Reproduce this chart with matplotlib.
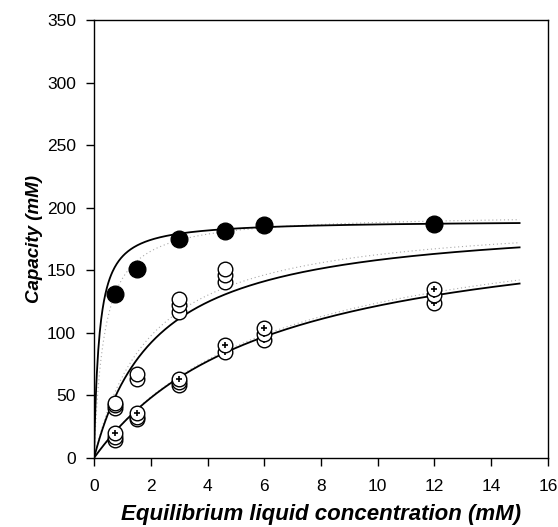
import numpy as np
import matplotlib
matplotlib.use('Agg')
import matplotlib.pyplot as plt

plt.rcParams['font.family'] = ['Liberation Sans', 'DejaVu Sans']

# measured points (equilibrium conc. in mM, capacity in mM)
filled_x = [0.75, 1.5, 3.0, 4.6, 6.0, 12.0]
filled_y = [131, 151, 175, 181, 186, 187]

open_x = [0.75, 0.75, 0.75, 1.5, 1.5, 3.0, 3.0, 3.0, 4.6, 4.6, 4.6]
open_y = [40, 42, 44, 63, 67, 117, 122, 127, 141, 146, 151]

plus_x = [0.75, 0.75, 0.75, 1.5, 1.5, 1.5, 3.0, 3.0, 3.0, 4.6, 4.6, 6.0, 6.0, 6.0, 12.0, 12.0, 12.0]
plus_y = [14, 17, 20, 31, 33, 36, 58, 61, 63, 85, 90, 94, 99, 104, 124, 130, 135]

# Langmuir fits (qmax, K)
solid_fits = [(190, 0.18), (193, 2.2), (197, 6.2)]
dotted_fits = [(195, 0.36), (195, 2.0), (202, 6.3)]

xticks = [0, 2, 4, 6, 8, 10, 12, 14, 16]
yticks = [0, 50, 100, 150, 200, 250, 300, 350]

fig = plt.figure(figsize=(5.58, 5.27), dpi=100)
ax = fig.add_axes([0.1685, 0.131, 0.8135, 0.831])

c = np.linspace(0, 15, 600)
for qm, k in dotted_fits:
    ax.plot(c, qm * c / (k + c), linestyle=(0, (1, 2.5)), color='#aaaaaa', linewidth=0.8, zorder=1)
for qm, k in solid_fits:
    ax.plot(c, qm * c / (k + c), color='black', linewidth=1.3, zorder=2)

ax.plot(filled_x, filled_y, 'o', color='black', markersize=12, zorder=5)

# open circles, drawn low to high so stacks overlap like the original
order = np.argsort(open_y)
for i, j in enumerate(order):
    ax.plot(open_x[j], open_y[j], 'o', markerfacecolor='white', markeredgecolor='black',
            markersize=10.5, markeredgewidth=1.0, zorder=6 + i * 0.01)

order = np.argsort(plus_y)
for i, j in enumerate(order):
    z = 7 + i * 0.01
    ax.plot(plus_x[j], plus_y[j], 'o', markerfacecolor='white', markeredgecolor='black',
            markersize=10.5, markeredgewidth=1.0, zorder=z)
    ax.plot(plus_x[j], plus_y[j], '+', color='black', markersize=5, markeredgewidth=1.2, zorder=z + 0.005)

ax.set_xlim(0, 16)
ax.set_ylim(0, 350)
ax.set_xticks(xticks)
ax.set_yticks(yticks)
ax.tick_params(direction='out', length=6, width=1, labelsize=12.5, pad=7)
ax.tick_params(axis='x', pad=9)
for s in ax.spines.values():
    s.set_linewidth(1.0)

ax.set_xlabel('Equilibrium liquid concentration (mM)', fontsize=16, fontweight='bold',
              fontstyle='italic', labelpad=7)
ax.set_ylabel('Capacity (mM)', fontsize=13.5, fontweight='bold', fontstyle='italic', labelpad=3)

fig.savefig('out.png', dpi=100)
